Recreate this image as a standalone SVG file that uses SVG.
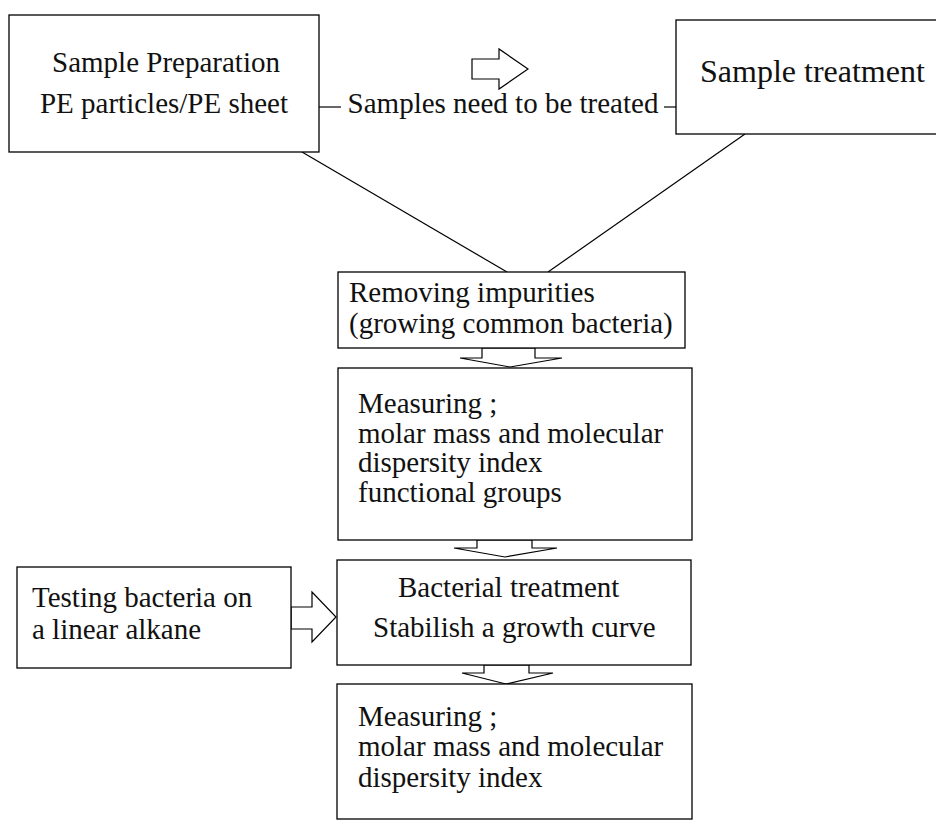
<svg xmlns="http://www.w3.org/2000/svg" width="936" height="821" viewBox="0 0 936 821">
<style>
.box{fill:#fff;stroke:#000;stroke-width:1.3}
.t{font-family:"Liberation Serif","Times New Roman",serif;font-size:29px;fill:#111}
.ln{stroke:#000;stroke-width:1.2;fill:none}
.arr{fill:#fff;stroke:#000;stroke-width:1.2}
</style>
<rect width="936" height="821" fill="#fff"/>
<g id="connectors">
<line class="ln" x1="302" y1="152" x2="507" y2="272"/>
<line class="ln" x1="745" y1="134" x2="548" y2="272"/>
<line class="ln" x1="319" y1="107" x2="341" y2="107"/>
<line class="ln" x1="664" y1="107" x2="676" y2="107"/>
<polygon class="arr" points="472,59 499,59 499,49 528,69 499,89 499,79 472,79"/>
<polygon class="arr" points="482,348 535,348 535,358 562,358 510,367 460,358 482,358"/>
<polygon class="arr" points="477,540 532,540 532,548 557,548 505,557 454,548 477,548"/>
<polygon class="arr" points="291,607 312,607 312,592 336,617 312,642 312,629 291,629"/>
<polygon class="arr" points="484,665 529,665 529,673 553,673 506,684 462,673 484,673"/>
</g>
<g id="sample-prep">
<rect class="box" x="9" y="15" width="310" height="137"/>
<text class="t" x="166" y="72" text-anchor="middle">Sample Preparation</text>
<text class="t" x="164" y="113" text-anchor="middle">PE particles/PE sheet</text>
</g>
<g id="edge-label">
<text class="t" x="503" y="113" text-anchor="middle">Samples need to be treated</text>
</g>
<g id="sample-treatment">
<rect class="box" x="676" y="20" width="270" height="114"/>
<text class="t" x="700" y="82" style="font-size:32px">Sample treatment</text>
</g>
<g id="removing">
<rect class="box" x="338" y="272" width="347" height="76"/>
<text class="t" x="349" y="302">Removing impurities</text>
<text class="t" x="349" y="333">(growing common bacteria)</text>
</g>
<g id="measuring1">
<rect class="box" x="338" y="368" width="354" height="172"/>
<text class="t" x="358" y="413">Measuring ;</text>
<text class="t" x="358" y="443">molar mass and molecular</text>
<text class="t" x="358" y="472">dispersity index</text>
<text class="t" x="358" y="502">functional groups</text>
</g>
<g id="testing">
<rect class="box" x="17" y="567" width="274" height="101"/>
<text class="t" x="32" y="607">Testing bacteria on</text>
<text class="t" x="32" y="639">a linear alkane</text>
</g>
<g id="bacterial">
<rect class="box" x="337" y="560" width="354" height="105"/>
<text class="t" x="398" y="597">Bacterial treatment</text>
<text class="t" x="373" y="637">Stabilish a growth curve</text>
</g>
<g id="measuring2">
<rect class="box" x="337" y="684" width="355" height="135"/>
<text class="t" x="358" y="726">Measuring ;</text>
<text class="t" x="358" y="756">molar mass and molecular</text>
<text class="t" x="358" y="787">dispersity index</text>
</g>
</svg>
